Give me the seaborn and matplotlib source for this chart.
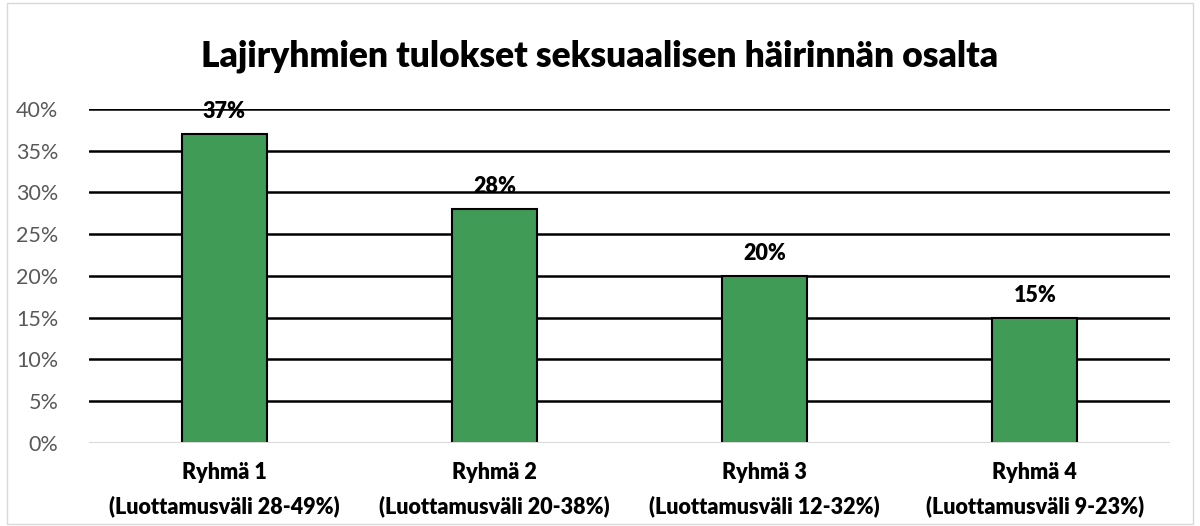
import matplotlib
matplotlib.use("Agg")
import matplotlib.pyplot as plt
import seaborn as sns
import pandas as pd
from matplotlib.patches import Rectangle

categories = ["Ryhmä 1\n(Luottamusväli 28-49%)", "Ryhmä 2\n(Luottamusväli 20-38%)",
              "Ryhmä 3\n(Luottamusväli 12-32%)", "Ryhmä 4\n(Luottamusväli 9-23%)"]
values = [37, 28, 20, 15]
yticks = [0, 5, 10, 15, 20, 25, 30, 35, 40]
title = "Lajiryhmien tulokset seksuaalisen häirinnän osalta"

sns.set_theme(style="white")
plt.rcParams['font.family'] = ['Lato', 'DejaVu Sans']

df = pd.DataFrame({"cat": categories, "val": values})
fig = plt.figure(figsize=(12, 5.26), dpi=100)
ax = fig.add_axes([0.0742, 0.158, 0.9008, 0.635])
sns.barplot(data=df, x="cat", y="val", color="#3f9b56", saturation=1, width=0.315,
            edgecolor="black", linewidth=1.5, ax=ax, zorder=3)
ax.set_ylim(0, 40)
ax.set_xlim(-0.5, 3.5)
ax.set_yticks(yticks)
ax.set_yticklabels([f"{t}%" for t in yticks], color="#595959", fontsize=15.5)
for t in yticks[1:]:
    ax.axhline(t, color="black", linewidth=1.8, zorder=1)
ax.axhline(0, color="#d9d9d9", linewidth=1.5, zorder=4)
for s in ax.spines.values():
    s.set_visible(False)
ax.tick_params(axis="both", length=0)
ax.tick_params(axis="y", pad=22)
ax.set_xticks(range(len(categories)))
ax.set_xticklabels(categories, fontsize=15.5, fontweight="heavy", color="black", linespacing=1.65)
ax.tick_params(axis="x", pad=14)
ax.set_xlabel("")
ax.set_ylabel("")
for i, v in enumerate(values):
    ax.annotate(f"{v}%", (i, v), xytext=(0, 8.5), textcoords="offset points",
                ha="center", va="bottom", fontsize=15.5, fontweight="heavy",
                color="black", zorder=5)
fig.text(0.5, 0.893, title, ha="center", va="center", fontsize=25.5, fontweight="heavy",
         color="black")
fig.patches.append(Rectangle((0.006, 0.004), 0.988, 0.99, transform=fig.transFigure,
                             fill=False, edgecolor="#d9d9d9", linewidth=1))
fig.savefig("out.png", dpi=100)
